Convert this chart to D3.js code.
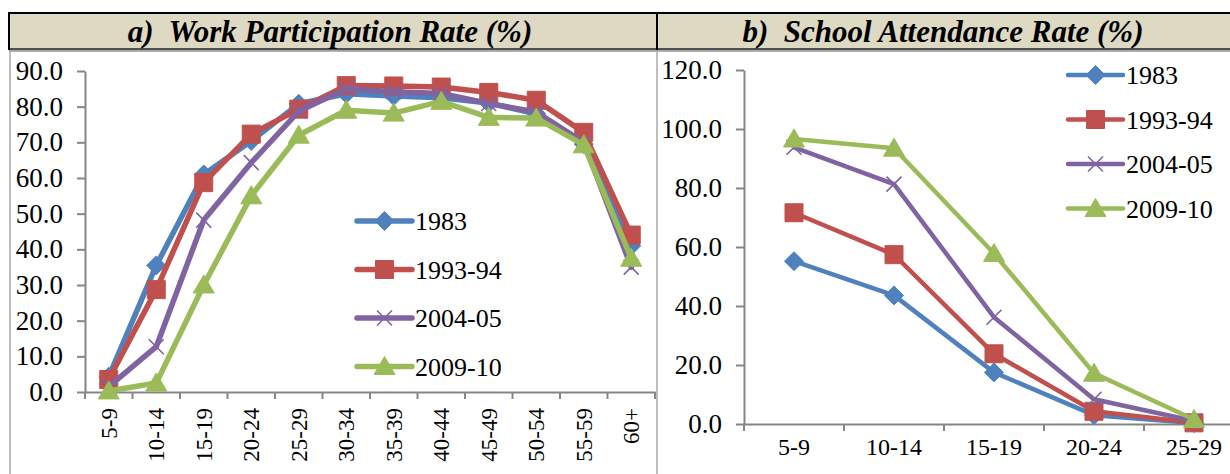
<!DOCTYPE html>
<html>
<head>
<meta charset="utf-8">
<script src="https://cdn.jsdelivr.net/npm/d3@7"></script>
<style>
  html, body { margin: 0; padding: 0; background: #ffffff; }
  svg { display: block; }
</style>
</head>
<body>
<svg id="chart" width="1230" height="474"></svg>
<script>
// Age groups
const workAges = ["5-9", "10-14", "15-19", "20-24", "25-29", "30-34", "35-39", "40-44", "45-49", "50-54", "55-59", "60+"];
const schoolAges = ["5-9", "10-14", "15-19", "20-24", "25-29"];

// Survey rounds
const rounds = ["1983", "1993-94", "2004-05", "2009-10"];
const roundColors = ["#4F81BD", "#C0504D", "#8064A2", "#9BBB59"];
const roundMarkers = ["diamond", "square", "cross", "triangle"];

// Work participation rate (%) by age group
const work1983 = [4.3, 35.5, 61.0, 70.4, 80.8, 83.6, 83.0, 82.5, 81.0, 78.0, 69.5, 41.0];
const work1993 = [3.5, 28.7, 58.7, 72.3, 79.3, 85.9, 85.8, 85.5, 84.0, 81.8, 72.8, 44.0];
const work2004 = [1.5, 12.7, 48.2, 64.3, 78.7, 85.0, 84.2, 83.7, 80.9, 78.5, 70.0, 35.0];
const work2009 = [0.3, 2.5, 30.0, 55.0, 72.0, 79.0, 78.2, 81.5, 77.0, 76.8, 69.3, 37.5];

// School attendance rate (%) by age group
const school1983 = [55.2, 43.6, 17.5, 3.0, 0.3];
const school1993 = [71.6, 57.4, 23.8, 4.3, 0.4];
const school2004 = [93.8, 81.3, 36.2, 8.4, 1.0];
const school2009 = [96.6, 93.5, 57.8, 17.2, 1.5];

// Axis ticks
const workTicks = [0, 10, 20, 30, 40, 50, 60, 70, 80, 90];
const schoolTicks = [0, 20, 40, 60, 80, 100, 120];

const FONT = "'Liberation Serif', Tinos, 'Times New Roman', Times, 'DejaVu Serif', 'Noto Serif', serif";

const svg = d3.select("#chart");
const axisGrey = "#868686";

// ---- Panel frames and title bands ----
const panels = [
  { x0: 10, x1: 657, cx: 330, title: "a)  Work Participation Rate (%)" },
  { x0: 657, x1: 1240, cx: 943, title: "b)  School Attendance Rate (%)" }
];

panels.forEach(p => {
  svg.append("rect")
    .attr("x", p.x0).attr("y", 50)
    .attr("width", p.x1 - p.x0).attr("height", 440)
    .attr("fill", "#fff").attr("stroke", "#BFBFBF").attr("stroke-width", 2);
});

svg.append("rect")
  .attr("x", 9).attr("y", 13)
  .attr("width", 1240).attr("height", 37)
  .attr("fill", "#DDD9C3");
svg.append("line").attr("x1", 9).attr("x2", 1230).attr("y1", 13).attr("y2", 13)
  .attr("stroke", "#000").attr("stroke-width", 2);
svg.append("line").attr("x1", 9).attr("x2", 1230).attr("y1", 49).attr("y2", 49)
  .attr("stroke", "#222").attr("stroke-width", 1.5);
svg.append("line").attr("x1", 9).attr("x2", 1230).attr("y1", 51).attr("y2", 51)
  .attr("stroke", "#9A9A9A").attr("stroke-width", 1.5);
svg.append("line").attr("x1", 9).attr("x2", 9).attr("y1", 12).attr("y2", 50)
  .attr("stroke", "#000").attr("stroke-width", 2);
svg.append("line").attr("x1", 657).attr("x2", 657).attr("y1", 12).attr("y2", 50)
  .attr("stroke", "#000").attr("stroke-width", 2);

panels.forEach(p => {
  svg.append("text")
    .attr("x", p.cx).attr("y", 42)
    .attr("text-anchor", "middle")
    .style("white-space", "pre")
    .style("font-family", FONT)
    .style("font-size", "31px")
    .style("font-weight", "bold")
    .style("font-style", "italic")
    .attr("fill", "#000")
    .text(p.title);
});

// ---- Marker shapes ----
function markerPath(kind) {
  switch (kind) {
    case "diamond": return "M0,-9.5L9.5,0L0,9.5L-9.5,0Z";
    case "square": return "M-9,-9H9V9H-9Z";
    case "cross": return "M-7.5,-7.5L7.5,7.5M-7.5,7.5L7.5,-7.5";
    case "triangle": return "M0,-10L10.5,8H-10.5Z";
  }
}

function drawMarker(g, kind, color, x, y) {
  const m = g.append("path")
    .attr("d", markerPath(kind))
    .attr("transform", `translate(${x},${y})`);
  if (kind === "cross") {
    m.attr("fill", "none").attr("stroke", color).attr("stroke-width", 1.6);
  } else {
    m.attr("fill", color).attr("stroke", color).attr("stroke-width", 1);
  }
}

// ---- Generic line chart ----
function lineChart(cfg) {
  const g = svg.append("g");
  const x = d3.scaleBand().domain(cfg.categories).range([cfg.left, cfg.right]);
  const y = d3.scaleLinear().domain(cfg.yDomain).range([cfg.bottom, cfg.top]);

  // y axis
  const yAxis = d3.axisLeft(y)
    .tickValues(cfg.yTicks)
    .tickFormat(d3.format(".1f"))
    .tickSize(8)
    .tickSizeOuter(0)
    .tickPadding(14);
  const ya = g.append("g").attr("transform", `translate(${cfg.left},0)`).call(yAxis)
    .attr("font-family", null).attr("font-size", null);
  ya.select(".domain").attr("stroke", axisGrey).attr("stroke-width", 2);
  ya.selectAll(".tick line").attr("stroke", axisGrey).attr("stroke-width", 2);
  ya.selectAll(".tick text")
    .style("font-family", FONT)
    .style("font-size", cfg.yFont + "px")
    .attr("fill", "#000");

  // x axis: labels at band centres, tick marks at band edges
  const xAxis = d3.axisBottom(x).tickSize(0).tickSizeOuter(0).tickPadding(0);
  const xa = g.append("g").attr("transform", `translate(0,${cfg.bottom})`).call(xAxis)
    .attr("font-family", null).attr("font-size", null);
  xa.select(".domain").attr("stroke", axisGrey).attr("stroke-width", 2);
  const labels = xa.selectAll(".tick text")
    .style("font-family", FONT)
    .style("font-size", cfg.xFont + "px")
    .attr("fill", "#000");
  if (cfg.rotateLabels) {
    labels.attr("transform", "rotate(-90)")
      .attr("text-anchor", "end")
      .attr("x", -16).attr("y", 0).attr("dy", "0.35em");
  } else {
    labels.attr("y", 14).attr("dy", "0.71em");
  }
  const edges = cfg.categories.map(c => x(c)).concat([x(cfg.categories[cfg.categories.length - 1]) + x.bandwidth()]);
  xa.selectAll(".edge").data(edges).enter().append("line")
    .attr("class", "edge")
    .attr("x1", d => d).attr("x2", d => d)
    .attr("y1", 0).attr("y2", 7)
    .attr("stroke", axisGrey).attr("stroke-width", 2);

  // series
  const line = d3.line()
    .x((d, i) => x(cfg.categories[i]) + x.bandwidth() / 2)
    .y(d => y(d))
    .curve(d3.curveLinear);

  cfg.series.forEach((vals, si) => {
    const sg = g.append("g");
    sg.append("path")
      .attr("d", line(vals))
      .attr("fill", "none")
      .attr("stroke", roundColors[si])
      .attr("stroke-width", cfg.lineWidth)
      .attr("stroke-linejoin", "round")
      .attr("stroke-linecap", "round");
    vals.forEach((v, i) => {
      drawMarker(sg, roundMarkers[si], roundColors[si], x(cfg.categories[i]) + x.bandwidth() / 2, y(v));
    });
  });

  // legend
  const lg = g.append("g");
  rounds.forEach((r, i) => {
    const ly = cfg.legendY + i * cfg.legendStep;
    lg.append("line")
      .attr("x1", cfg.legendX).attr("x2", cfg.legendX + 55)
      .attr("y1", ly).attr("y2", ly)
      .attr("stroke", roundColors[i]).attr("stroke-width", cfg.lineWidth)
      .attr("stroke-linecap", "round");
    drawMarker(lg, roundMarkers[i], roundColors[i], cfg.legendX + 27.5, ly);
    lg.append("text")
      .attr("x", cfg.legendX + 58).attr("y", ly)
      .attr("dy", "0.35em")
      .style("font-family", FONT)
      .style("font-size", cfg.legendFont + "px")
      .attr("fill", "#000")
      .text(r);
  });
}

lineChart({
  categories: workAges,
  series: [work1983, work1993, work2004, work2009],
  yDomain: [0, 90], yTicks: workTicks,
  left: 85, right: 655, top: 71, bottom: 392,
  rotateLabels: true,
  yFont: 27, xFont: 23, legendFont: 26,
  lineWidth: 5.5,
  legendX: 357, legendY: 221, legendStep: 48.5
});

lineChart({
  categories: schoolAges,
  series: [school1983, school1993, school2004, school2009],
  yDomain: [0, 120], yTicks: schoolTicks,
  left: 744, right: 1244, top: 70, bottom: 424,
  rotateLabels: false,
  yFont: 27, xFont: 24, legendFont: 26,
  lineWidth: 4.5,
  legendX: 1068, legendY: 75, legendStep: 44.5
});
</script>
</body>
</html>
